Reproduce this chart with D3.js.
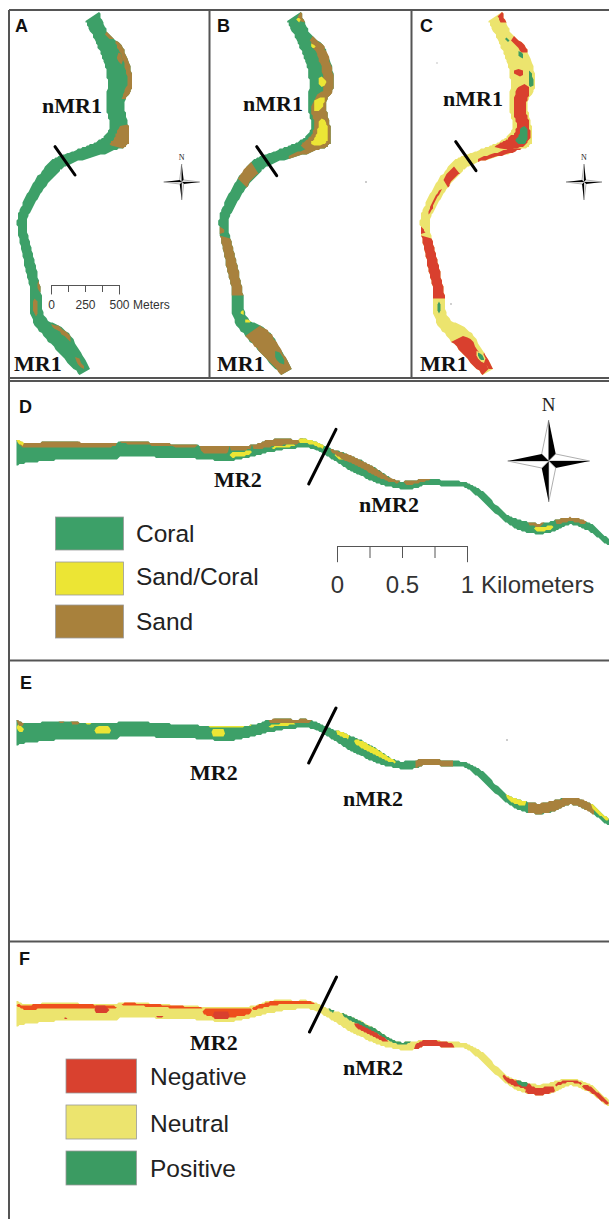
<!DOCTYPE html>
<html>
<head>
<meta charset="utf-8">
<style>
html, body { margin: 0; padding: 0; background: #fff; }
svg { display: block; }
</style>
<script src="https://cdn.jsdelivr.net/npm/d3@7"></script>
</head>
<body>
<script>
// reach 1 (panels A-C) banks, map units
const reach1Left = [[255,62],[283,118],[310,180],[322,240],[320,330],[330,380],[305,415],[255,440],[190,465],[150,485],[100,550],[60,630],[52,680],[70,780],[90,870],[97,960],[160,1040],[240,1125]];
const reach1Right = [[298,38],[325,100],[372,150],[398,250],[374,310],[385,380],[385,430],[335,455],[215,490],[170,520],[125,575],[85,650],[82,690],[102,780],[122,870],[135,950],[205,1000],[270,1105]];

// reach 2 (panels D-F) banks
const reach2X = [42,60,150,300,310,500,590,650,700,760,800,850,900,960,1020,1060,1100,1140,1200,1250,1300,1340,1390,1430,1470,1520,1568];
const reach2Top = [178,188,185,190,183,195,198,195,178,178,180,205,225,260,300,302,295,300,308,340,400,420,430,420,412,430,475];
const reach2Bottom = [255,250,240,240,230,236,242,230,215,205,205,235,270,305,324,327,314,318,324,372,425,452,462,452,434,457,497];

// patches: class, from, to, cross-from, cross-to
const patchesA = [
  ["sand",0.9,1.4,0.6,1],["sand",1.5,3.6,0.6,1],["sand",2.0,2.4,0.2,0.6],["sand",3.0,3.8,0.5,1],
  ["sand",4.9,6.5,-0.2,1],["sand",13.7,14.1,0.6,1],["sand",14.3,14.9,-0.5,0.2],["sand",15.4,16.2,0.5,0.95],["sand",16.5,16.9,-0.2,0.4]
];
const patchesB = [
  ["sand",0,0.5,0.4,1],["mix",0.2,0.4,0.2,0.6],["sand",1.2,3.6,0.15,1],["sand",3.3,7,-0.7,1],
  ["mix",1.5,1.7,0.1,0.4],["mix",2.8,3.2,-0.2,0.3],["mix",3.6,4.2,-0.4,0.7],["mix",4.6,6.4,-0.3,0.7],
  ["sand",6.6,7.6,0.3,1],["sand",9,9.8,-1,1],["sand",12,12.25,-1,-0.1],["sand",12.3,14.2,-1,1],
  ["mix",14.7,14.9,0.4,0.9],["mix",15.1,15.3,0.3,0.9],["sand",15.6,17,-1,1],["coral",16.4,16.75,-0.1,0.7]
];
const patchesC = [
  ["neg",0,0.5,0.3,1],["neg",1.2,2.1,0.4,1],["pos",1.1,1.3,-0.1,0.2],["pos",1.9,2.2,0.2,0.5],
  ["neg",2.5,2.8,-0.6,0.1],["pos",2.6,3.2,0.5,0.8],["neg",3.1,6.2,-0.6,0.8],["neg",5.5,7,-0.8,0.7],
  ["pos",5.0,6.2,-0.2,0.6],["neg",6.7,7.9,0.3,1],["neg",9,9.8,-0.5,1],["neg",10,11,0.1,0.5],
  ["neg",12,12.25,-1,-0.2],["neg",12.3,14.3,-1,1],["pos",14.4,14.8,-0.3,0.2],
  ["neg",15.8,17,-1,0.55],["neg",16.5,17,0.4,1],["neu",16.4,16.7,0,0.8],["pos",16.45,16.65,0.2,0.6]
];
const patchesD = [
  ["sand",42,300,0,0.28],["sand",310,510,0,0.2],["sand",515,590,0,0.55],["sand",590,650,0,0.35],["sand",650,780,0,0.58],
  ["mix",42,60,0,0.15],["mix",590,650,0.45,0.8],["mix",700,760,0.6,0.78],["mix",770,835,0,0.5],["mix",860,885,0.3,0.6],
  ["sand",850,1030,0,0.5],["sand",1040,1110,0,0.45],["sand",1360,1400,0,0.3],["sand",1430,1510,0,0.55],["mix",1375,1425,0.35,0.75]
];
const patchesE = [
  ["sand",42,62,0,0.2],["mix",42,62,0.2,0.45],["sand",150,165,0,0.1],["sand",180,205,0,0.1],["mix",220,235,0,0.12],
  ["mix",245,285,0.2,0.6],["mix",545,580,0.2,0.75],["mix",520,650,0,0.08],["sand",690,805,0,0.4],["mix",690,760,0.42,0.62],
  ["mix",865,900,0,0.35],["mix",910,1020,0.03,0.5],["sand",1070,1165,0,1],["mix",1300,1355,0,0.55],["sand",1360,1530,0,1],["mix",1520,1568,0,0.5]
];
const patchesF = [
  ["hot",42,300,0.05,0.3],["neg",245,280,0.1,0.55],["hot",310,520,0.05,0.22],["hot",520,650,0.1,0.7],["neg",550,590,0.3,0.85],
  ["hot",650,810,0.05,0.42],["neg",400,420,0.8,0.92],["neg",165,172,0.8,0.92],["pos",845,860,0,0.2],["pos",880,1060,0,0.3],
  ["neg",910,1000,0.25,0.6],["neg",1065,1170,0.1,1],["neg",1295,1370,0.05,0.65],["pos",1330,1360,0,0.4],
  ["neg",1350,1430,0.3,1],["neg",1430,1500,0.2,0.55],["neg",1500,1568,0.3,0.9]
];

const habitatLegend = ["Coral","Sand/Coral","Sand"];
const changeLegend = ["Negative","Neutral","Positive"];
const meterTicks = [0,125,250,375,500];
const meterLabels = [0,250,500];
const kmTicks = [0,0.25,0.5,0.75,1];
const kmLabels = [0,0.5,1];

const colors = { coral:"#3ca068", mix:"#ece534", sand:"#a8813c", neu:"#ece46e", neg:"#d9412f", hot:"#ee4f1e", pos:"#3b9b62" };
const width = 609, height = 1219;

const svg = d3.select("body").append("svg").attr("width", width).attr("height", height);
svg.append("rect").attr("width", width).attr("height", height).attr("fill", "#fff");
const blur = svg.append("defs").append("filter").attr("id", "soft");
blur.append("feGaussianBlur").attr("stdDeviation", 0.45);

// smooth curve through the bank readings (catmull-rom)
function bank(values) {
  const last = values.length - 1;
  return s => {
    const i = Math.min(Math.floor(s), last - 1), t = s - i;
    const p0 = values[Math.max(i - 1, 0)], p1 = values[i], p2 = values[i + 1], p3 = values[Math.min(i + 2, last)];
    return 0.5 * (2 * p1 + (p2 - p0) * t + (2 * p0 - 5 * p1 + 4 * p2 - p3) * t * t + (3 * p1 - p0 - 3 * p2 + p3) * t * t * t);
  };
}
const stations = d3.range(reach1Left.length);
const lx = bank(reach1Left.map(d => d[0])), ly = bank(reach1Left.map(d => d[1]));
const rx = bank(reach1Right.map(d => d[0])), ry = bank(reach1Right.map(d => d[1]));
const xIndex = d3.scaleLinear().domain(reach2X).range(d3.range(reach2X.length));
const topBank = bank(reach2Top), bottomBank = bank(reach2Bottom);

const snap = v => Math.round(v / 1.5) * 1.5; // raster look of the classified map
const line = d3.line().x(d => snap(d[0])).y(d => snap(d[1]));

// outline of a patch, tapered at the ends unless it spans the whole channel
function outline(at, from, to, lo, hi, step) {
  const n = Math.max(4, Math.ceil((to - from) / step));
  const whole = lo === 0 && hi === 1;
  const anchor = lo === 0 ? 0 : hi === 1 ? 1 : (lo + hi) / 2;
  const a = [], b = [];
  d3.range(n + 1).forEach(i => {
    const u = i / n, s = from + (to - from) * u;
    const k = whole ? 1 : Math.pow(Math.max(0, 1 - Math.pow(2 * u - 1, 6)), 0.5);
    a.push(at(s, anchor + (lo - anchor) * k));
    b.push(at(s, anchor + (hi - anchor) * k));
  });
  return line(a.concat(b.reverse())) + "Z";
}

function drawRiver(g, at, start, end, step, base, patches, norm) {
  const map = g.append("g").attr("filter", "url(#soft)");
  map.append("path").attr("d", outline(at, start, end, 0, 1, step)).attr("fill", colors[base]);
  map.selectAll("path.patch").data(patches).enter().append("path").attr("class", "patch")
    .attr("d", d => outline(at, d[1], d[2], norm(d[3]), norm(d[4]), step))
    .attr("fill", d => colors[d[0]]);
}

// panels A-C
const topPanels = [
  { x: 0, base: "coral", patches: patchesA },
  { x: 201.7, base: "coral", patches: patchesB },
  { x: 403, base: "neu", patches: patchesC }
];
const sx1 = d3.scaleLinear().domain([0, 630]).range([0, 210]);
const sy1 = d3.scaleLinear().domain([0, 1155]).range([0, 385]);
topPanels.forEach(p => {
  const g = svg.append("g").attr("transform", `translate(${p.x},0)`);
  const at = (s, c) => [
    sx1(lx(s) + (rx(s) - lx(s)) * c),
    sy1(ly(s) + (ry(s) - ly(s)) * c)
  ];
  drawRiver(g, at, 0, stations.length - 1, 0.1, p.base, p.patches, c => (c + 1) / 2);
});

// panels D-F
const bottomPanels = [
  { y: 380, base: "coral", patches: patchesD },
  { y: 660, base: "coral", patches: patchesE },
  { y: 941, base: "neu", patches: patchesF }
];
const sx2 = d3.scaleLinear().domain([0, 1568]).range([0, 609]);
const sy2 = d3.scaleLinear().domain([0, 840]).range([0, 280]);
bottomPanels.forEach(p => {
  const g = svg.append("g").attr("transform", `translate(0,${p.y})`);
  const at = (x, c) => {
    const i = xIndex(x), t = topBank(i), b = bottomBank(i);
    return [sx2(x), sy2(t + (b - t) * c)];
  };
  drawRiver(g, at, 42, 1568, 4, p.base, p.patches, c => c);
});

// stray specks of the scan
const specks = [[366,182,1],[437,63,0.8],[451,304,0.9],[507,740,1]];
svg.selectAll("circle.speck").data(specks).enter().append("circle").attr("class", "speck")
  .attr("cx", d => d[0]).attr("cy", d => d[1]).attr("r", d => d[2]).attr("fill", "#bbb");

// frames
const frames = [
  [9,10,609,10],[9,378,609,378],[9,381,609,381],[9,10,9,1219],[209.5,10,209.5,378],[411.5,10,411.5,378],
  [9,660.5,609,660.5],[9,941.5,609,941.5]
];
svg.selectAll("line.frame").data(frames).enter().append("line").attr("class", "frame")
  .attr("x1", d => d[0]).attr("y1", d => d[1]).attr("x2", d => d[2]).attr("y2", d => d[3])
  .attr("stroke", "#555").attr("stroke-width", 2);

// divider ticks between MR and nMR
const dividers = [
  [55,146.7,75,175],[256.7,146.7,276.7,175.7],[455.7,141.7,476,170.7],
  [336,429.3,308.7,484],[336,708,308.7,763],[336.5,977,309.5,1032]
];
svg.selectAll("line.divider").data(dividers).enter().append("line").attr("class", "divider")
  .attr("x1", d => d[0]).attr("y1", d => d[1]).attr("x2", d => d[2]).attr("y2", d => d[3])
  .attr("stroke", "#000").attr("stroke-width", 3).attr("stroke-linecap", "round");

// text
const sans = "'Liberation Sans', Arial, sans-serif", serif = "'Liberation Serif', 'Times New Roman', serif";
const panelLetters = [["A",15,32],["B",217,32],["C",420,32],["D",19,413],["E",20,689],["F",19,965]];
svg.selectAll("text.letter").data(panelLetters).enter().append("text").attr("class", "letter")
  .attr("x", d => d[1]).attr("y", d => d[2]).text(d => d[0])
  .attr("font-family", sans).attr("font-weight", "bold").attr("font-size", 18).attr("fill", "#111");

const reachLabels = [
  ["nMR1",42,113],["nMR1",243,111],["nMR1",443,106],["MR1",14,371],["MR1",217,371],["MR1",420,371],
  ["MR2",214,487],["nMR2",359,512],["MR2",190,780],["nMR2",343,806],["MR2",190,1050],["nMR2",343,1075]
];
svg.selectAll("text.reach").data(reachLabels).enter().append("text").attr("class", "reach")
  .attr("x", d => d[1]).attr("y", d => d[2]).text(d => d[0])
  .attr("font-family", serif).attr("font-weight", "bold").attr("font-size", 22).attr("fill", "#111");

// legends
function legend(items, keys, x, w, tops, h, labelX, baselines) {
  const g = svg.append("g");
  items.forEach((name, i) => {
    g.append("rect").attr("x", x).attr("y", tops[i]).attr("width", w).attr("height", h)
      .attr("fill", colors[keys[i]]).attr("stroke", "#999").attr("stroke-width", 0.8);
    g.append("text").attr("x", labelX).attr("y", baselines[i]).text(name)
      .attr("font-family", sans).attr("font-size", 24.5).attr("fill", "#222");
  });
}
legend(habitatLegend, ["coral","mix","sand"], 55.5, 68, [517,562,605], 33, 136, [542,585,630]);
legend(changeLegend, ["neg","neu","pos"], 66, 70.5, [1059,1105,1151], 34, 150, [1085,1132,1177]);

// scale bars
function scaleBar(x0, x1, y, domain, ticks, labels, inner, size, unit, unitX, labelDy) {
  const scale = d3.scaleLinear().domain(domain).range([x0, x1]);
  const axis = d3.axisBottom(scale).tickValues(ticks).tickSizeOuter(0)
    .tickSize(inner).tickFormat(d => labels.includes(d) ? d : "");
  const g = svg.append("g").attr("transform", `translate(0,${y})`).call(axis);
  g.select(".domain").attr("stroke", "#555");
  g.selectAll(".tick line").attr("stroke", "#555")
    .attr("y2", d => (d === domain[0] || d === domain[1]) ? inner * 1.35 : inner);
  g.selectAll(".tick text").attr("font-family", sans).attr("font-size", size).attr("fill", "#333").attr("y", labelDy).attr("dy", 0);
  g.append("text").attr("x", unitX).attr("y", labelDy).attr("text-anchor", "start").text(unit)
    .attr("font-family", sans).attr("font-size", size).attr("fill", "#333");
}
scaleBar(51, 119, 285, [0,500], meterTicks, meterLabels, 7, 12, "Meters", 133, 24);
scaleBar(337, 467, 546, [0,1], kmTicks, kmLabels, 12, 24, "Kilometers", 481, 47);

// compass roses
const arms = [0, 90, 180, 270];
const blackHalf = (L, w) => `M0,0L0,${-L}L${w},${-w}Z`;
const whiteHalf = (L, w) => `M0,0L0,${-L}L${-w},${-w}Z`;
function compass(cx, cy, L, w, letterY, size) {
  const g = svg.append("g").attr("transform", `translate(${cx},${cy})`);
  arms.forEach(a => {
    g.append("path").attr("d", whiteHalf(L, w)).attr("transform", `rotate(${a})`)
      .attr("fill", "#fff").attr("stroke", "#999").attr("stroke-width", 0.8);
    g.append("path").attr("d", blackHalf(L, w)).attr("transform", `rotate(${a})`).attr("fill", "#000");
  });
  svg.append("text").attr("x", cx).attr("y", letterY).attr("text-anchor", "middle").text("N")
    .attr("font-family", serif).attr("font-size", size).attr("fill", "#222");
}
compass(181.7, 182, 18, 2, 160, 8);
compass(584, 182, 18, 2, 160, 8);
compass(548.7, 461, 41, 7, 411, 19);
</script>
</body>
</html>
